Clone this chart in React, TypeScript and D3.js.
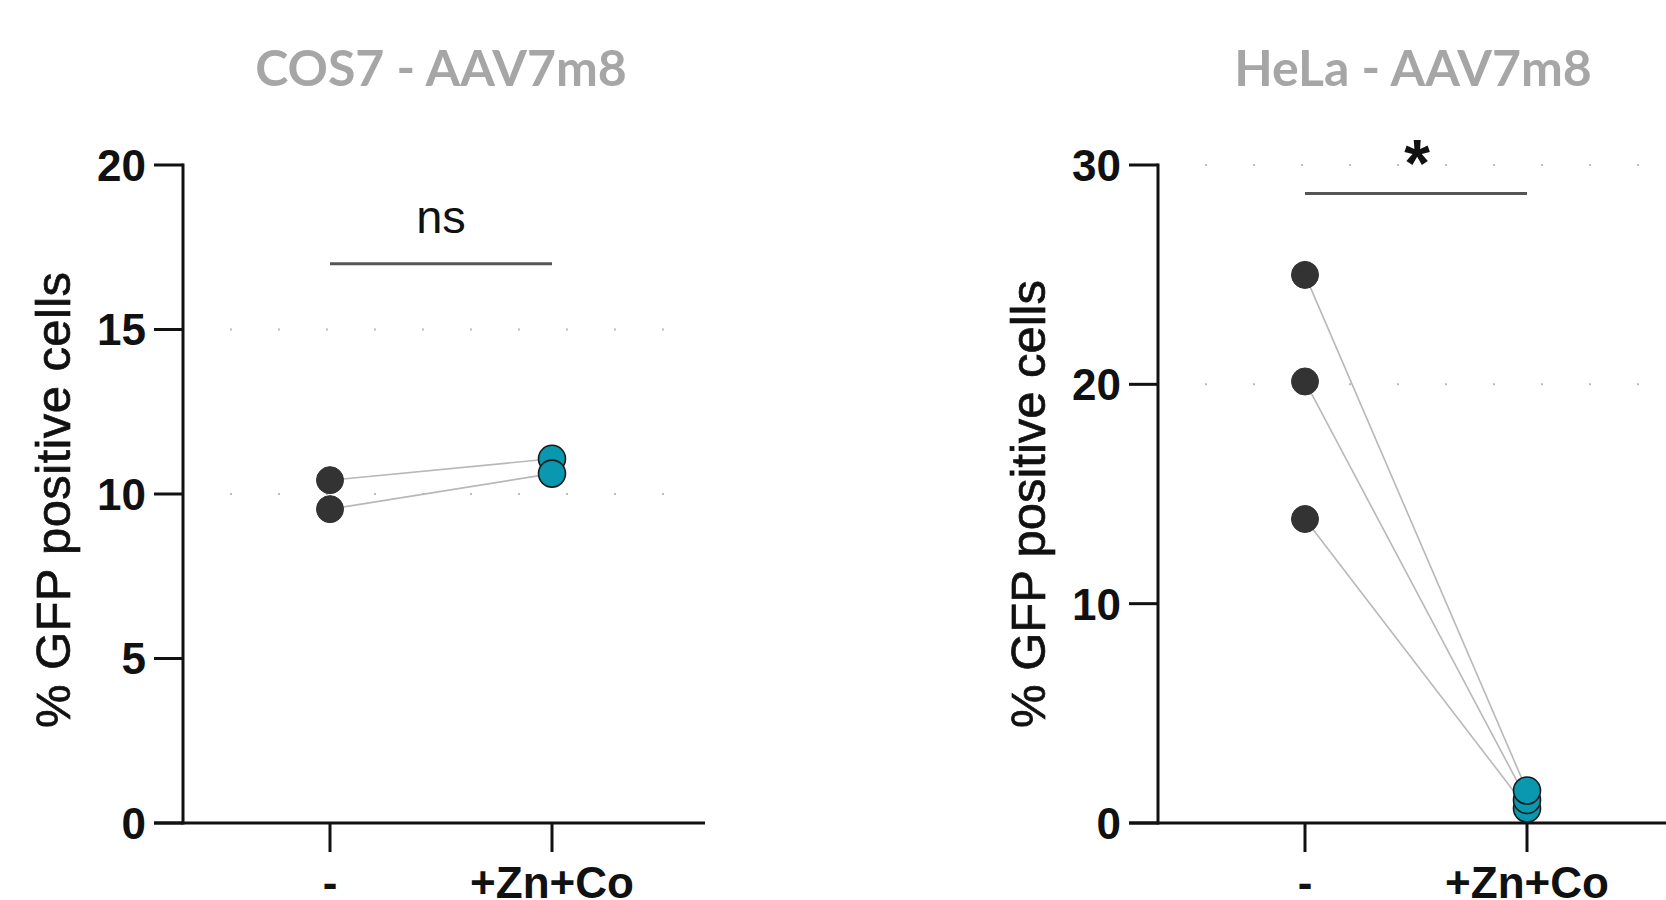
import React from "react";
import * as d3 from "d3";

const categories = ["-", "+Zn+Co"];

// COS7 - AAV7m8
const cos7Control = [10.42, 9.54];
const cos7Treated = [11.07, 10.62];
const cos7Ticks = [0, 5, 10, 15, 20];
const cos7Grid = [10, 15];

// HeLa - AAV7m8
const helaControl = [13.86, 20.13, 24.99];
const helaTreated = [0.66, 1.05, 1.48];
const helaTicks = [0, 10, 20, 30];
const helaGrid = [20, 30];

const panels = [
  {
    title: "COS7 - AAV7m8",
    control: cos7Control,
    treated: cos7Treated,
    ticks: cos7Ticks,
    grid: cos7Grid,
    yMax: 20,
    sig: "ns",
    sigY: 17,
    axisX: 183,
    axisEnd: 705,
    gridEnd: 668,
    x0: 330,
    x1: 552,
    titleX: 441,
    labelY: 500,
    labelLen: 456,
  },
  {
    title: "HeLa - AAV7m8",
    control: helaControl,
    treated: helaTreated,
    ticks: helaTicks,
    grid: helaGrid,
    yMax: 30,
    sig: "*",
    sigY: 28.7,
    axisX: 1158,
    axisEnd: 1700,
    gridEnd: 1666,
    x0: 1305,
    x1: 1527,
    titleX: 1413,
    labelY: 504,
    labelLen: 448,
  },
];

const TOP = 165;
const BOTTOM = 823;
const R = 13.5;
const DARK = "#333333";
const TEAL = "#0a97b0";

function Panel({ p }: { p: (typeof panels)[number] }) {
  const y = d3.scaleLinear().domain([0, p.yMax]).range([BOTTOM, TOP]);
  const x = d3.scalePoint<string>().domain(categories).range([p.x0, p.x1]);
  const xc = x(categories[0])!;
  const xt = x(categories[1])!;
  const sigYpx = y(p.sigY);
  return (
    <g>
      <text
        x={p.titleX}
        y={86}
        textAnchor="middle"
        fontFamily="Lato, 'Open Sans', sans-serif"
        fontWeight={700}
        fontSize={50}
        fill="#a6a6a6"
      >
        {p.title}
      </text>
      {/* dotted grid */}
      {p.grid.map((g) => (
        <line
          key={"g" + g}
          x1={p.axisX + 47}
          x2={p.gridEnd}
          y1={y(g)}
          y2={y(g)}
          stroke="#bdbdbd"
          strokeWidth={2}
          strokeDasharray="2 46"
        />
      ))}
      {/* y axis */}
      <line x1={p.axisX} x2={p.axisX} y1={TOP - 1.5} y2={BOTTOM + 1.5} stroke="#111" strokeWidth={3} />
      {p.ticks.map((t) => (
        <g key={"t" + t}>
          <line x1={p.axisX - 29} x2={p.axisX} y1={y(t)} y2={y(t)} stroke="#111" strokeWidth={3} />
          <text
            x={p.axisX - 37}
            y={y(t)}
            dy="0.36em"
            textAnchor="end"
            fontFamily="'Liberation Sans', Arial, sans-serif"
            fontWeight={700}
            fontSize={44}
            fill="#111"
          >
            {t}
          </text>
        </g>
      ))}
      {/* x axis */}
      <line x1={p.axisX - 29} x2={p.axisEnd} y1={BOTTOM} y2={BOTTOM} stroke="#111" strokeWidth={3} />
      {categories.map((c) => (
        <g key={"c" + c}>
          <line x1={x(c)} x2={x(c)} y1={BOTTOM} y2={BOTTOM + 29} stroke="#111" strokeWidth={3} />
          <text
            x={x(c)}
            y={898}
            textAnchor="middle"
            fontFamily="'Liberation Sans', Arial, sans-serif"
            fontWeight={700}
            fontSize={44}
            fill="#111"
          >
            {c}
          </text>
        </g>
      ))}
      {/* y label */}
      <text
        transform={`translate(${p.axisX - 113},${p.labelY}) rotate(-90)`}
        textAnchor="middle"
        fontFamily="'Liberation Sans', Arial, sans-serif"
        fontSize={49}
        textLength={p.labelLen}
        lengthAdjust="spacing"
        fill="#111"
        stroke="#111"
        strokeWidth={0.7}
      >
        % GFP positive cells
      </text>
      {/* significance */}
      <line x1={xc} x2={xt} y1={sigYpx} y2={sigYpx} stroke="#555" strokeWidth={3} />
      {p.sig === "ns" ? (
        <text
          x={(xc + xt) / 2}
          y={233}
          textAnchor="middle"
          fontFamily="'Liberation Sans', Arial, sans-serif"
          fontSize={47}
          fill="#111"
        >
          ns
        </text>
      ) : (
        <text
          x={(xc + xt) / 2 + 1}
          y={186}
          textAnchor="middle"
          fontFamily="'Liberation Sans', Arial, sans-serif"
          fontWeight={700}
          fontSize={66}
          fill="#111"
        >
          *
        </text>
      )}
      {/* connecting lines */}
      {p.control.map((v, i) => (
        <line
          key={"l" + i}
          x1={xc}
          y1={y(v)}
          x2={xt}
          y2={y(p.treated[i])}
          stroke="#b8b8b8"
          strokeWidth={1.6}
        />
      ))}
      {p.control.map((v, i) => (
        <circle key={"cd" + i} cx={xc} cy={y(v)} r={R} fill={DARK} stroke={DARK} strokeWidth={1} />
      ))}
      {p.treated.map((v, i) => (
        <circle key={"ct" + i} cx={xt} cy={y(v)} r={R} fill={TEAL} stroke="#1a1a1a" strokeWidth={1.6} />
      ))}
    </g>
  );
}

export default function App() {
  return (
    <svg
      width={1666}
      height={900}
      viewBox="0 0 1666 900"
      style={{ position: "absolute", left: 0, top: 0, background: "#fff" }}
    >
      <rect x={0} y={0} width={1666} height={900} fill="#fff" />
      {panels.map((p) => (
        <Panel key={p.title} p={p} />
      ))}
    </svg>
  );
}
